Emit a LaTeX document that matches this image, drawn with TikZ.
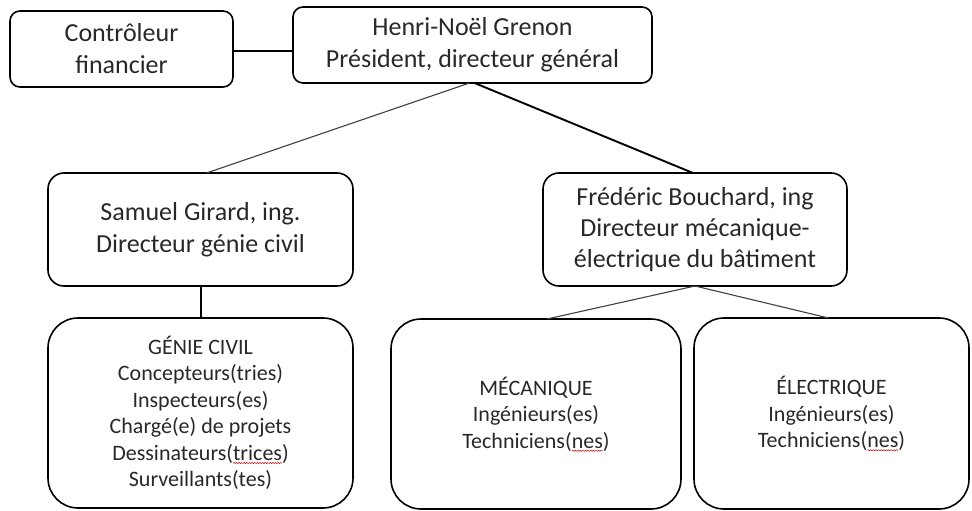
\documentclass[tikz,border=0pt]{standalone}
\usepackage{fontspec}
\setmainfont{Carlito}
\usetikzlibrary{calc,decorations.pathmorphing}
\definecolor{txt}{RGB}{40,40,40}
\newsavebox{\sqbox}
\newcommand{\squig}[1]{\sbox{\sqbox}{#1}\rlap{\tikz[overlay,sharp corners]{\draw[sharp corners,red!80!black,line width=0.5pt,decorate,decoration={snake,amplitude=0.6pt,segment length=2.6pt}] (0pt,-2.6pt) -- (\the\wd\sqbox,-2.6pt);}}\usebox{\sqbox}}
\begin{document}
\begin{tikzpicture}[x=1pt,y=-1pt,
  box/.style={draw=black,line width=1.6pt,align=center,text=txt,inner sep=0pt,outer sep=0pt},
  big/.style={box,font=\fontsize{26}{32}\selectfont},
  small/.style={box,font=\fontsize{22}{26.5}\selectfont},
  thin/.style={line width=1.1pt,draw=black!75},
  thick/.style={line width=1.9pt,draw=black}]
\path[use as bounding box] (0,0) rectangle (972,511);
\node[big,minimum width=223pt,minimum height=76pt,rounded corners=10pt] (ctrl) at (121.5,49) {Contrôleur\\financier};
\node[big,minimum width=359pt,minimum height=76pt,rounded corners=10pt] (pres) at (472.5,45) {Henri-Noël Grenon\\Président, directeur général};
\node[big,minimum width=305pt,minimum height=113pt,rounded corners=16pt] (sam) at (200.5,229.5) {Samuel Girard, ing.\\Directeur génie civil};
\node[big,minimum width=304pt,minimum height=113pt,rounded corners=16pt,font=\fontsize{26}{31}\selectfont] (fred) at (695,229.5) {Frédéric Bouchard, ing\\Directeur mécanique-\\électrique du bâtiment};
\node[small,minimum width=305pt,minimum height=190pt,rounded corners=30pt] (gc) at (200.5,413) {GÉNIE CIVIL\\Concepteurs(tries)\\Inspecteurs(es)\\Chargé(e) de projets\\Dessinateurs(\squig{trices})\\Surveillants(tes)};
\node[small,minimum width=290pt,minimum height=190pt,rounded corners=30pt] (mec) at (536,414) {MÉCANIQUE\\Ingénieurs(es)\\Techniciens(\squig{nes})};
\node[small,minimum width=275pt,minimum height=191pt,rounded corners=30pt] (elec) at (831.5,413.5) {ÉLECTRIQUE\\Ingénieurs(es)\\Techniciens(\squig{nes})};
\draw[thick,line width=2.2pt] ([yshift=-2pt]ctrl.east) -- ([yshift=-2pt]ctrl.east -| pres.west);
\draw[thin] ([xshift=-3pt]pres.south) -- ([xshift=6pt]sam.north);
\draw[thick] ([xshift=2pt]pres.south) -- ([xshift=-2pt]fred.north);
\draw[thick,line width=2pt] (sam.south) -- (gc.north);
\draw[thin] (fred.south) -- ([xshift=11pt]mec.north);
\draw[thin] (fred.south) -- ([xshift=-3pt]elec.north);
\end{tikzpicture}
\end{document}
